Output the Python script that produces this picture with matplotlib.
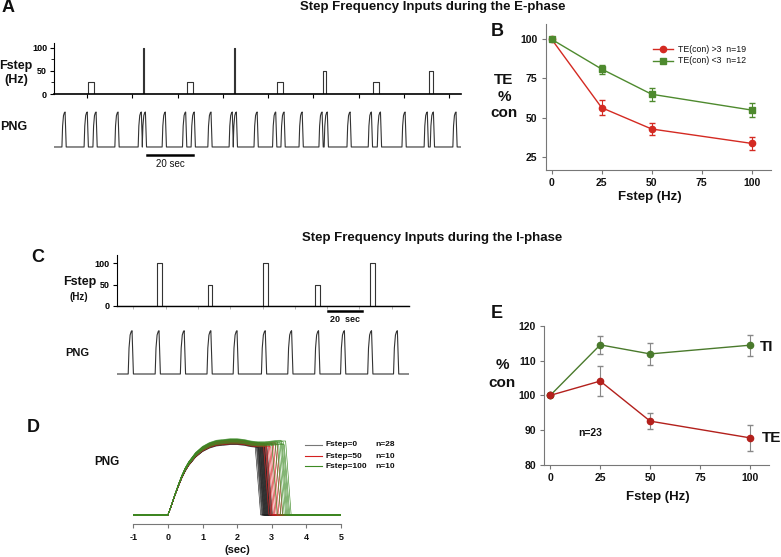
import matplotlib
matplotlib.use("Agg")
import matplotlib.pyplot as plt
import numpy as np

plt.rcParams['font.family'] = ['Liberation Sans', 'DejaVu Sans']
plt.rcParams['font.weight'] = 'bold'
plt.rcParams['axes.unicode_minus'] = False

W, H = 781, 557
fig = plt.figure(figsize=(W / 100, H / 100), dpi=100)
TXT = '#111111'

# ---------------- data ----------------
# Panel A: step pulses (start s, end s, Hz) and PNG burst peak times (s)
a_pulse_start = [0.5, 24.6, 44.1, 65.0, 83.9, 104.5, 126.2, 151.0]
a_pulse_end = [3.1, 25.2, 46.7, 65.6, 86.6, 105.6, 129.0, 152.8]
a_pulse_hz = [25, 100, 25, 100, 25, 50, 25, 50]
a_png_peaks = [-9.7, 0.1, 4.0, 13.7, 24.0, 25.8, 34.6, 43.6, 47.4, 54.8, 64.2,
               66.0, 75.2, 83.4, 87.1, 95.1, 103.9, 106.2, 116.3, 125.7, 129.7,
               140.6, 150.4, 153.1, 163.1]

# Panel C
c_pulse_start = [14.4, 46.2, 80.2, 112.8, 146.5]
c_pulse_end = [17.5, 48.9, 83.3, 115.7, 149.6]
c_pulse_hz = [100, 50, 100, 50, 100]
c_png_peaks = [-0.8, 15.9, 31.5, 48.0, 64.2, 81.7, 98.0, 114.7, 130.7, 147.5, 163.5]

# burst shape (relative time, normalised amplitude)
burst_t = [0.0, 0.3, 0.7, 1.1, 1.4, 1.6, 1.9]
burst_v = [0.0, 0.6, 0.9, 0.98, 1.0, 0.6, 0.0]
burst_peak = 1.4

# Panel B
b_x = [0, 25, 50, 100]
b_red = [100, 56.3, 42.7, 33.5]
b_red_err = [0, 4.7, 3.9, 4.3]
b_green = [100, 81.0, 64.9, 54.8]
b_green_err = [0, 2.9, 4.3, 4.3]
b_labels = ['TE(con) >3  n=19', 'TE(con) <3  n=12']

# Panel D: averaged PNG shape and burst end times
d_tmpl_t = [0, 0.1, 0.2, 0.3, 0.4, 0.5, 0.6, 0.8, 1.0, 1.2, 1.4, 1.6, 1.8, 2.0,
            2.2, 2.4, 2.6, 2.8, 3.0, 3.2, 3.4]
d_tmpl_v = [0, 0.13, 0.27, 0.4, 0.52, 0.62, 0.7, 0.82, 0.9, 0.95, 0.98, 0.99,
            1.0, 1.0, 0.99, 0.97, 0.96, 0.96, 0.97, 0.98, 0.97]
d_end_black = [2.52, 2.55, 2.57, 2.58, 2.60, 2.61, 2.62, 2.63, 2.64, 2.65, 2.66,
               2.67, 2.68, 2.69, 2.70, 2.71, 2.72, 2.73, 2.74, 2.75, 2.76, 2.77,
               2.78, 2.79, 2.80, 2.82, 2.84, 2.86]
d_amp_black = [0.97, 1.0, 0.98, 1.02, 0.99, 1.01, 0.96, 1.0, 0.98, 1.03, 0.99,
               0.97, 1.01, 1.0, 0.98, 1.02, 0.99, 1.0, 0.97, 1.01, 0.98, 1.0,
               1.02, 0.99, 0.97, 1.0, 1.01, 0.98]
d_end_red = [2.76, 2.81, 2.85, 2.89, 2.93, 2.97, 3.01, 3.05, 3.10, 3.15]
d_amp_red = [0.99, 1.01, 0.98, 1.02, 1.0, 0.97, 1.01, 0.99, 1.02, 1.0]
d_end_green = [3.00, 3.10, 3.16, 3.20, 3.24, 3.27, 3.30, 3.33, 3.36, 3.40]
d_amp_green = [1.02, 1.0, 1.03, 0.99, 1.01, 1.04, 1.0, 1.02, 0.98, 1.03]
d_labels = [('Fstep=0', 'n=28'), ('Fstep=50', 'n=10'), ('Fstep=100', 'n=10')]

# Panel E
e_x = [0, 25, 50, 100]
e_ti = [100, 114.5, 111.9, 114.4]
e_ti_err = [0, 2.6, 3.2, 3.0]
e_te = [100, 104.1, 92.6, 87.8]
e_te_err = [0, 4.2, 2.2, 3.8]

RED = '#D42A22'
GREEN = '#4E8A2E'
DRED = '#B3201C'
DGREEN = '#4A7A2C'


def add_ax(x0, y0, x1, y1):
    return fig.add_axes([x0 / W, 1 - y1 / H, (x1 - x0) / W, (y1 - y0) / H])


def T(x, y, s, size, ha='center', va='center', weight='bold', **kw):
    fig.text(x / W, 1 - y / H, s, fontsize=size, ha=ha, va=va,
             fontweight=weight, color=kw.pop('color', TXT), **kw)


def pulse_trace(starts, ends, hz, t0, t1):
    xs, ys = [t0], [0]
    for s, e, h in zip(starts, ends, hz):
        xs += [s, s, e, e]
        ys += [0, h, h, 0]
    xs.append(t1)
    ys.append(0)
    return xs, ys


def png_trace(peaks, scale, t0, t1):
    xs, ys = [t0], [0]
    for p in peaks:
        st = p - burst_peak * scale
        for bt, bv in zip(burst_t, burst_v):
            xs.append(st + bt * scale)
            ys.append(bv)
    xs.append(t1)
    ys.append(0)
    return xs, ys


def style_trace_axis(ax):
    for s in ['top', 'right']:
        ax.spines[s].set_visible(False)
    ax.spines['left'].set_linewidth(0.8)
    ax.spines['bottom'].set_linewidth(1.2)
    ax.tick_params(axis='both', direction='out', length=3, width=0.8,
                   labelsize=6.5, pad=2)
    ax.set_xticklabels([])
    ax.patch.set_visible(False)


# ---------------- Panel A ----------------
a_t0, a_t1 = -14.6, 165.3
ax = add_ax(54, 43.3, 461, 94)
xs, ys = pulse_trace(a_pulse_start, a_pulse_end, a_pulse_hz, a_t0, a_t1)
ax.plot(xs, ys, color='#333333', lw=0.8)
ax.set_xlim(a_t0, a_t1)
ax.set_ylim(0, 110)
ax.set_xticks(np.arange(0, 161, 20))
ax.set_yticks([0, 50, 100])
ax.set_yticks([25, 75], minor=True)
ax.tick_params(axis='y', which='minor', length=2, width=0.6)
style_trace_axis(ax)
for lab in ax.get_yticklabels():
    lab.set_fontweight('bold')

ax = add_ax(54, 105, 461, 150)
xs, ys = png_trace(a_png_peaks, 1.0, a_t0, a_t1)
ax.plot(xs, ys, color='#333333', lw=0.8)
ax.set_xlim(a_t0, a_t1)
ax.set_ylim(-0.086, 1.2)
ax.axis('off')
# scale bar
ax.plot([(147 - 87) / 2.262, (193 - 87) / 2.262], [-0.23, -0.23],
        color='black', lw=1.8, clip_on=False)

T(8, 8, 'A', 13)
T(433, 7, 'Step Frequency Inputs during the E-phase', 9.5)
T(16, 66, 'Fstep', 9)
T(16, 80, '(Hz)', 9)
T(14, 127, 'PNG', 9)
T(170, 164, '20 sec', 7, weight='normal')

# ---------------- Panel B ----------------
ax = add_ax(545.7, 24.3, 771, 170)
ax.errorbar(b_x, b_red, yerr=b_red_err, color=RED, marker='o', ms=4.5, lw=1,
            capsize=2.5, elinewidth=0.8)
ax.errorbar(b_x, b_green, yerr=b_green_err, color=GREEN, marker='s', ms=4.5,
            lw=1, capsize=2.5, elinewidth=0.8)
ax.set_xlim(-3, 109.7)
ax.set_ylim(16.5, 109.6)
ax.set_xticks([0, 25, 50, 75, 100])
ax.set_yticks([25, 50, 75, 100])
for s in ['top', 'right']:
    ax.spines[s].set_visible(False)
for s in ['left', 'bottom']:
    ax.spines[s].set_color('#777777')
ax.tick_params(direction='out', length=3, colors='#777777', labelcolor=TXT,
               labelsize=7.5, pad=3)
for lab in ax.get_xticklabels() + ax.get_yticklabels():
    lab.set_fontweight('bold')
# manual legend
for yy, col, mk, lab in [(49, RED, 'o', b_labels[0]), (61, GREEN, 's', b_labels[1])]:
    fig.add_artist(plt.Line2D([653 / W, 673 / W], [1 - yy / H, 1 - yy / H],
                              color=col, lw=1))
    fig.add_artist(plt.Line2D([663 / W], [1 - yy / H], color=col, marker=mk,
                              ms=4.5, lw=0))
    T(678, yy, lab, 6.3, ha='left', weight='normal')
T(497, 32, 'B', 13)
T(504, 80, 'TE', 11)
T(504, 97, '%', 11)
T(504, 113, 'con', 11)
T(650, 197, 'Fstep (Hz)', 9.5)

# ---------------- Panel C ----------------
c_t0, c_t1 = -10.3, 170.7
axc = add_ax(116.7, 255, 409, 305.7)
xs, ys = pulse_trace(c_pulse_start, c_pulse_end, c_pulse_hz, c_t0, c_t1)
axc.plot(xs, ys, color='#333333', lw=0.8)
axc.set_xlim(c_t0, c_t1)
axc.set_ylim(0, 119.6)
axc.set_xticks(np.arange(0, 161, 20))
axc.set_yticks([0, 50, 100])
style_trace_axis(axc)
axc.spines['bottom'].set_linewidth(1.0)
axc.tick_params(axis='x', length=2, width=0.5, colors='#999999')
for lab in axc.get_yticklabels():
    lab.set_fontweight('bold')
# scale bar (20 s)
axc.plot([(328 - 133.3) / 1.615, (328 - 133.3) / 1.615 + 20.8], [-13, -13],
         color='black', lw=1.8, clip_on=False)

ax = add_ax(116.7, 325, 409, 377)
xs, ys = png_trace(c_png_peaks, 1.7, c_t0, c_t1)
ax.plot(xs, ys, color='#333333', lw=0.8)
ax.set_xlim(c_t0, c_t1)
ax.set_ylim(-(377 - 374) / 43.3, 1 + (330.7 - 325) / 43.3)
ax.axis('off')

T(38, 257, 'C', 13)
T(432, 238, 'Step Frequency Inputs during the I-phase', 9.5)
T(80, 282, 'Fstep', 9)
T(79, 297, '(Hz)', 7)
T(77, 353, 'PNG', 8)
T(345, 319, '20  sec', 6.5)

# ---------------- Panel D ----------------
ax = add_ax(133.3, 430.7, 341, 524.3)


def d_trace(end, amp):
    xs, ys = [-1.0], [0.0]
    last = 0.0
    for tt, vv in zip(d_tmpl_t, d_tmpl_v):
        if tt < end:
            xs.append(tt)
            ys.append(vv * amp)
            last = vv * amp
    xs += [end, end + 0.16, 5.0]
    ys += [last, 0.0, 0.0]
    return xs, ys


for e, a in zip(d_end_black, d_amp_black):
    ax.plot(*d_trace(e, a), color='#222222', lw=0.45)
for e, a in zip(d_end_red, d_amp_red):
    ax.plot(*d_trace(e, a), color='#D42020', lw=0.45)
for e, a in zip(d_end_green, d_amp_green):
    ax.plot(*d_trace(e, a), color='#3C8A24', lw=0.45)
ax.set_xlim(-1, 5)
ax.set_ylim(-0.127, 1.15)
ax.set_xticks([-1, 0, 1, 2, 3, 4, 5])
for s in ['top', 'right', 'left']:
    ax.spines[s].set_visible(False)
ax.spines['bottom'].set_color('#777777')
ax.set_yticks([])
ax.tick_params(axis='x', direction='out', length=3, colors='#777777',
               labelcolor=TXT, labelsize=6.5, pad=3)
for lab in ax.get_xticklabels():
    lab.set_fontweight('bold')
ax.patch.set_visible(False)

for yy, col, (l1, l2) in zip([445, 456, 466], ['#777777', '#D42020', '#3C8A24'],
                             d_labels):
    fig.add_artist(plt.Line2D([305 / W, 322 / W], [1 - yy / H, 1 - yy / H],
                              color=col, lw=0.8))
    T(326, yy, l1, 6, ha='left')
    T(375, yy, l2, 6, ha='left')

T(33, 427, 'D', 13)
T(107, 462, 'PNG', 8.5)
T(237, 550, '(sec)', 8)

# ---------------- Panel E ----------------
ax = add_ax(544.3, 325.7, 769.3, 465)
ax.errorbar(e_x, e_ti, yerr=e_ti_err, color=DGREEN, marker='o', ms=4.5, lw=1,
            ecolor='#888888', capsize=2.5, elinewidth=0.8)
ax.errorbar(e_x, e_te, yerr=e_te_err, color=DRED, marker='o', ms=4.5, lw=1,
            ecolor='#888888', capsize=2.5, elinewidth=0.8)
ax.plot([0], [100], 'o', color=DGREEN, ms=4.5)
ax.set_xlim(-3, 109.7)
ax.set_ylim(80, 120)
ax.set_xticks([0, 25, 50, 75, 100])
ax.set_yticks([80, 90, 100, 110, 120])
for s in ['top', 'right']:
    ax.spines[s].set_visible(False)
for s in ['left', 'bottom']:
    ax.spines[s].set_color('#777777')
ax.tick_params(direction='out', length=3, colors='#777777', labelcolor=TXT,
               labelsize=7.5, pad=3)
for lab in ax.get_xticklabels() + ax.get_yticklabels():
    lab.set_fontweight('bold')

T(497, 313, 'E', 13)
T(502, 365, '%', 11)
T(502, 383, 'con', 11)
T(767, 347, 'TI', 11)
T(772, 438, 'TE', 11)
T(590, 433, 'n=23', 7.5)
T(658, 497, 'Fstep (Hz)', 9.5)

fig.savefig('out.png', dpi=100)
